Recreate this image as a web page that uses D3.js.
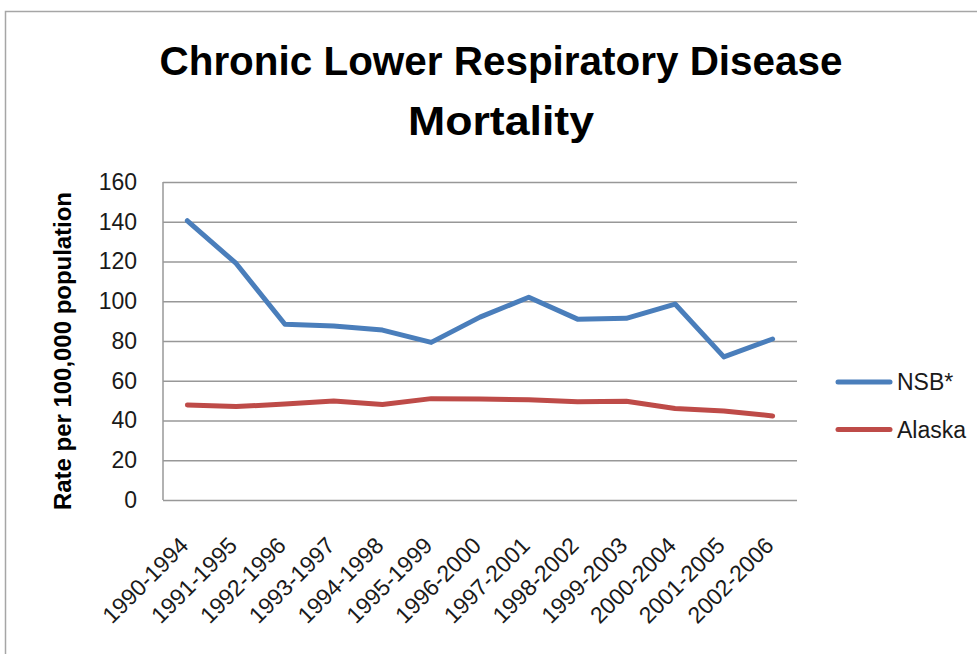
<!DOCTYPE html>
<html>
<head>
<meta charset="utf-8">
<script src="https://cdn.jsdelivr.net/npm/d3@7"></script>
<style>
  html, body { margin: 0; padding: 0; background: #fff; }
  svg { display: block; font-family: "Liberation Sans", Arial, sans-serif; }
</style>
</head>
<body>
<script>
// data
const periods = ['1990-1994', '1991-1995', '1992-1996', '1993-1997', '1994-1998', '1995-1999',
  '1996-2000', '1997-2001', '1998-2002', '1999-2003', '2000-2004', '2001-2005', '2002-2006'];
const nsb = [140.5, 119, 88.4, 87.5, 85.5, 79.3, 92, 102, 91, 91.4, 98.6, 72, 81];
const alaska = [47.8, 47, 48.3, 49.8, 48.1, 51, 50.8, 50.5, 49.4, 49.7, 46, 44.8, 42.3];
const yTicks = [0, 20, 40, 60, 80, 100, 120, 140, 160];
const seriesNames = ['NSB*', 'Alaska'];
const seriesColors = ['#4a7ebb', '#be4b48'];

const width = 977, height = 654;
const plot = { left: 163, right: 797, top: 182, bottom: 500 };

const svg = d3.select('body').append('svg')
  .attr('width', width)
  .attr('height', height);

// chart frame
svg.append('rect')
  .attr('x', 5.5).attr('y', 11.5)
  .attr('width', 1000).attr('height', 700)
  .attr('fill', '#fff')
  .attr('stroke', '#a6a6a6')
  .attr('stroke-width', 1.5);

// title
const title = svg.append('text')
  .attr('text-anchor', 'middle')
  .attr('font-weight', 'bold')
  .attr('font-size', 40)
  .attr('fill', '#000');
title.append('tspan').attr('x', 501).attr('y', 75)
  .attr('textLength', 683).attr('lengthAdjust', 'spacingAndGlyphs')
  .text('Chronic Lower Respiratory Disease');
title.append('tspan').attr('x', 501).attr('y', 135)
  .attr('textLength', 186).attr('lengthAdjust', 'spacingAndGlyphs')
  .text('Mortality');

const x = d3.scalePoint()
  .domain(periods)
  .range([plot.left, plot.right])
  .padding(0.5);

const y = d3.scaleLinear()
  .domain([0, 160])
  .range([plot.bottom, plot.top]);

// y axis with gridlines
const yAxis = d3.axisLeft(y)
  .tickValues(yTicks)
  .tickSize(-(plot.right - plot.left))
  .tickPadding(26);

const gy = svg.append('g')
  .attr('transform', 'translate(' + plot.left + ',0)')
  .call(yAxis);
gy.select('.domain').remove();
gy.selectAll('.tick line')
  .attr('stroke', '#989898')
  .attr('stroke-width', 1.5);
gy.selectAll('.tick text')
  .attr('font-size', 23)
  .attr('font-family', '"Liberation Sans", Arial, sans-serif')
  .attr('fill', '#1a1a1a');

// left axis line
svg.append('line')
  .attr('x1', plot.left).attr('x2', plot.left)
  .attr('y1', plot.top).attr('y2', plot.bottom)
  .attr('stroke', '#989898')
  .attr('stroke-width', 1.5);

// x axis labels
const xAxis = d3.axisBottom(x).tickSize(0).tickPadding(0);
const gx = svg.append('g')
  .attr('transform', 'translate(0,' + plot.bottom + ')')
  .call(xAxis);
gx.select('.domain').remove();
gx.selectAll('.tick text')
  .attr('font-size', 23)
  .attr('font-family', '"Liberation Sans", Arial, sans-serif')
  .attr('fill', '#1a1a1a')
  .attr('text-anchor', 'end')
  .attr('dy', null)
  .attr('y', null)
  .attr('transform', 'translate(2,47) rotate(-45)');

// y axis title
svg.append('text')
  .attr('transform', 'translate(71,351) rotate(-90)')
  .attr('text-anchor', 'middle')
  .attr('font-weight', 'bold')
  .attr('font-size', 23)
  .attr('textLength', 318)
  .attr('lengthAdjust', 'spacingAndGlyphs')
  .attr('fill', '#000')
  .text('Rate per 100,000 population');

// lines
const line = d3.line()
  .x((d, i) => x(periods[i]))
  .y(d => y(d));

[nsb, alaska].forEach((s, k) => {
  svg.append('path')
    .datum(s)
    .attr('fill', 'none')
    .attr('stroke', seriesColors[k])
    .attr('stroke-width', 5)
    .attr('stroke-linejoin', 'round')
    .attr('stroke-linecap', 'round')
    .attr('d', line);
});

// legend
const legend = svg.append('g');
seriesNames.forEach((name, k) => {
  const ly = 382 + k * 47.5;
  legend.append('line')
    .attr('x1', 838).attr('x2', 890)
    .attr('y1', ly).attr('y2', ly)
    .attr('stroke', seriesColors[k])
    .attr('stroke-width', 5)
    .attr('stroke-linecap', 'round');
  legend.append('text')
    .attr('x', 897).attr('y', ly)
    .attr('dy', '0.35em')
    .attr('font-size', 23)
    .attr('fill', '#1a1a1a')
    .text(name);
});
</script>
</body>
</html>
